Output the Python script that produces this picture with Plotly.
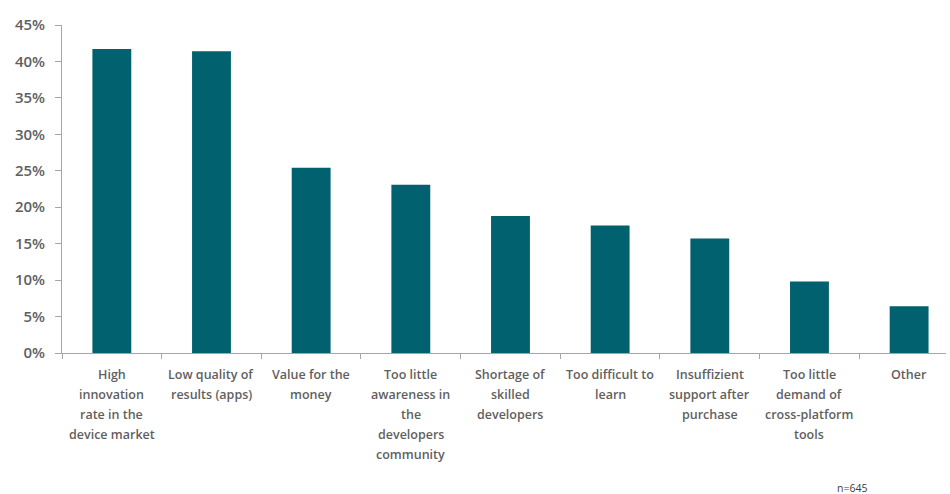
import plotly.graph_objects as go

# Survey: main obstacles for cross-platform development tools (share of respondents)
categories = [
    "High<br>innovation<br>rate in the<br>device market",
    "Low quality of<br>results (apps)",
    "Value for the<br>money",
    "Too little<br>awareness in<br>the<br>developers<br>community",
    "Shortage of<br>skilled<br>developers",
    "Too difficult to<br>learn",
    "Insuffizient<br>support after<br>purchase",
    "Too little<br>demand of<br>cross-platform<br>tools",
    "Other",
]
shares = [0.417, 0.414, 0.254, 0.231, 0.188, 0.175, 0.157, 0.098, 0.064]
y_ticks = [0, 0.05, 0.10, 0.15, 0.20, 0.25, 0.30, 0.35, 0.40, 0.45]
sample_note = "n=645"

BAR = "#01616F"
TEXT = "#5f5f5f"
AXIS = "#A6A6A6"
FONT = "Open Sans"

fig = go.Figure(
    go.Bar(
        x=list(range(len(categories))),
        y=shares,
        marker=dict(color=BAR, line=dict(width=0)),
        width=0.39,
        hoverinfo="skip",
    )
)

# Category labels, one annotation per line for an Excel-like line spacing
for i, label in enumerate(categories):
    for j, line in enumerate(label.split("<br>")):
        fig.add_annotation(
            x=i, y=0, xref="x", yref="paper",
            text=line, showarrow=False,
            xanchor="center", yanchor="middle",
            yshift=-21 - 20 * j,
            font=dict(family=FONT, size=12.5, color=TEXT, weight=600),
        )

fig.add_annotation(
    x=1, y=0, xref="paper", yref="paper",
    text=sample_note, showarrow=False,
    xanchor="right", yanchor="middle",
    xshift=-77, yshift=-135,
    font=dict(family=FONT, size=10.5, color="#404040"),
)

fig.update_layout(
    width=950, height=494,
    margin=dict(l=62, r=4, t=25, b=141),
    paper_bgcolor="white", plot_bgcolor="white",
    showlegend=False,
    xaxis=dict(
        range=[-0.5, len(categories) - 0.63],
        tickmode="array",
        tickvals=[k - 0.5 for k in range(len(categories) + 1)],
        showticklabels=False,
        ticks="outside", ticklen=5, tickcolor=AXIS, tickwidth=1,
        showline=True, linecolor=AXIS, linewidth=1,
        showgrid=False, zeroline=False, fixedrange=True,
    ),
    yaxis=dict(
        range=[0, 0.45],
        tickvals=y_ticks,
        tickformat=".0%",
        ticks="outside", ticklen=6, tickcolor=AXIS, tickwidth=1,
        ticklabelstandoff=7,
        showline=True, linecolor=AXIS, linewidth=1,
        showgrid=False, zeroline=False, fixedrange=True,
        tickfont=dict(family=FONT, size=15, color=TEXT, weight=600),
    ),
)

fig.write_html("out.html")
